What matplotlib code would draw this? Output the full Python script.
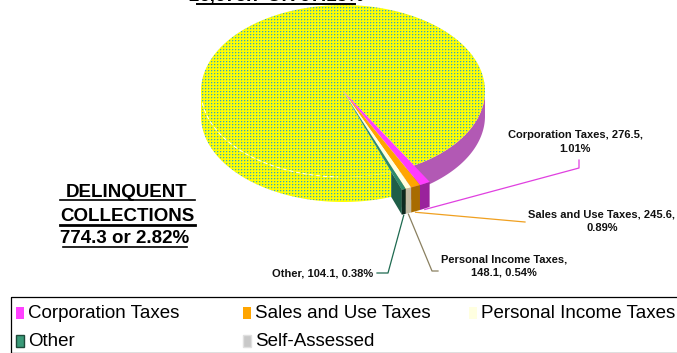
import numpy as np
import matplotlib
matplotlib.use("Agg")
import matplotlib.pyplot as plt
from matplotlib.patches import Polygon, Rectangle

plt.rcParams["font.family"] = ["Liberation Sans", "DejaVu Sans"]

# ---- data -------------------------------------------------------------
categories = ["Corporation Taxes", "Sales and Use Taxes",
              "Personal Income Taxes", "Other", "Self-Assessed"]
amounts = [276.5, 245.6, 148.1, 104.1, 26675.7]
percents = [1.01, 0.89, 0.54, 0.38, 97.18]
delinquent_amount = 774.3
delinquent_percent = 2.82

# ---- styling ----------------------------------------------------------
top_colors = ["#FF3CFF", "#FFA500", "#FFFFE0", "#2E8A6A"]
wall_colors = ["#9A229C", "#A86C00", "#C4BCA4", "#0E2A20"]
face_colors = ["#C02CC0", "#C88000", "#B0A890", "#1F5E48"]
leader_colors = ["#E040E0", "#F0A020", "#8A8060", "#1E6A50"]
legend_colors = ["#FF40FF", "#FFA500", "#FFFFE0", "#3A9A78", "#C8C8C8"]
legend_edges = ["none", "none", "none", "#1E4A3A", "#E0E0E0"]
right_wall_color = "#B259B4"

W, H = 677, 353
fig = plt.figure(figsize=(W / 100, H / 100), dpi=100)
ax = fig.add_axes([0, 0, 1, 1])

# pie geometry (pixel space, y downward)
cx, cy, rx, ry, depth = 343, 91, 142, 86, 25
start = -60.0
small_r = 1.22


def rim(phi_deg, r=1.0, dz=0.0):
    t = np.radians(phi_deg)
    return np.column_stack([cx + r * rx * np.cos(t),
                            cy - r * ry * np.sin(t) + dz])


spans = 360.0 * np.array(amounts) / sum(amounts)
bounds = start - np.concatenate([[0.0], np.cumsum(spans)])

# dotted yellow fill texture
YEL = np.array([1.0, 1.0, 0.0])
TEAL = np.array([0.25, 0.69, 0.63])
LIGHT = np.array([0.72, 0.88, 0.35])


def textured(poly_xy, zorder):
    patch = Polygon(poly_xy, closed=True, facecolor="none", edgecolor="none")
    ax.add_patch(patch)
    x0, y0 = np.floor(poly_xy.min(0)).astype(int) - 1
    x1, y1 = np.ceil(poly_xy.max(0)).astype(int) + 1
    h, w = y1 - y0, x1 - x0
    yy, xx = np.mgrid[0:h, 0:w]
    yy = (yy + y0) % 3
    xx = (xx + x0) % 3
    tex = np.empty((h, w, 3))
    tex[:] = YEL
    tex[(yy == 1) & (xx == 1)] = TEAL
    tex[(yy == 1) & (xx == 2)] = LIGHT
    tex[(yy == 2) & (xx == 1)] = LIGHT
    im = ax.imshow(tex, extent=(x0, x1, y1, y0), origin="upper",
                   interpolation="nearest", zorder=zorder, aspect="auto")
    im.set_clip_path(patch)


# ---- self-assessed slice: walls -----------------------------------------
sa0, sa1 = bounds[4], bounds[5]
ph = np.linspace(-180, sa0, 200)
left_wall = np.vstack([rim(ph), rim(ph[::-1], dz=depth)])
textured(left_wall, 1)

ph = np.linspace(sa1 + 360, 0, 120)
right_wall = np.vstack([rim(ph), rim(ph[::-1], dz=depth)])
ax.add_patch(Polygon(right_wall, closed=True, facecolor=right_wall_color,
                     edgecolor="none", zorder=1))

# ---- small (exploded) slices: side faces ---------------------------------
# only the part of each cut face that sticks out past the main cylinder
anchors = []
for i in range(4):
    a0, a1 = bounds[i], bounds[i + 1]
    ph = np.linspace(a0, a1, 20)
    outer = rim(ph, small_r)
    wall = np.vstack([outer, rim(ph[::-1], small_r, depth)])
    face = np.vstack([rim(a1, 1.0), rim(a1, small_r),
                      rim(a1, small_r, depth), rim(a1, 1.0, depth)])
    ax.add_patch(Polygon(face, closed=True, facecolor=face_colors[i],
                         edgecolor="none", zorder=2 + 0.01 * i))
    ax.add_patch(Polygon(wall, closed=True, facecolor=wall_colors[i],
                         edgecolor="none", zorder=2 + 0.01 * i + 0.005))
    anchors.append(rim((a0 + a1) / 2, small_r, depth + 1)[0])

# ---- self-assessed slice: top --------------------------------------------
ph = np.linspace(sa0, sa1, 600)
top_sa = np.vstack([[cx, cy], rim(ph)])
textured(top_sa, 3)
ax.plot(*rim(np.linspace(-172, -92, 80)).T, color="white", lw=0.7,
        dashes=(4, 3), zorder=3.2)

# ---- small slices: tops ---------------------------------------------------
for i in range(4):
    a0, a1 = bounds[i], bounds[i + 1]
    ph = np.linspace(a0, a1, 20)
    top = np.vstack([[cx, cy], rim(ph, small_r)])
    ax.add_patch(Polygon(top, closed=True, facecolor=top_colors[i],
                         edgecolor="none", zorder=4))

# ---- data labels with leader lines ---------------------------------------
lab_kw = dict(fontsize=8, fontweight="bold", color="#111111",
              linespacing=1.45, zorder=6)
label_texts = [
    f"{categories[0]}, {amounts[0]},\n{percents[0]:.2f}%",
    f"{categories[1]}, {amounts[1]},\n{percents[1]:.2f}%",
    f"{categories[2]},\n{amounts[2]}, {percents[2]:.2f}%",
    f"{categories[3]}, {amounts[3]}, {percents[3]:.2f}%",
]
label_pos = [(575, 142), (602, 221), (504, 266), (373, 274)]
label_ha = ["center", "center", "center", "right"]
elbows = [[(579, 168), (579, 160)],
          [(525, 222)],
          [(432, 271), (438, 271)],
          [(388, 273), (377, 273)]]
for i in range(4):
    pts = np.vstack([anchors[i], np.array(elbows[i])])
    ax.plot(pts[:, 0], pts[:, 1], color=leader_colors[i], lw=0.9, zorder=1.5)
    ax.text(*label_pos[i], label_texts[i], ha=label_ha[i], va="center",
            **lab_kw)

# ---- headline labels ------------------------------------------------------
big_kw = dict(fontsize=13.5, fontweight="bold", color="black",
              ha="center", va="baseline")
ax.text(276, 1, f"{amounts[4]:,.1f} OR {percents[4]}%", **big_kw)
ax.plot([197, 355], [4, 4], color="black", lw=1.4)

ax.text(127, 197, "DELINQUENT", **big_kw)
ax.text(127, 221, "COLLECTIONS", **big_kw)
ax.text(125, 243, f"{delinquent_amount} or {delinquent_percent}%", **big_kw)
ax.plot([60, 195], [200, 200], color="black", lw=1.2)
ax.plot([60, 195], [224.5, 224.5], color="black", lw=2.0)
ax.plot([63, 187], [247, 247], color="black", lw=1.2)

# ---- legend ----------------------------------------------------------------
ax.add_patch(Rectangle((10.5, 296.5), 700, 56, fill=False, edgecolor="black",
                       lw=0.9, zorder=6))
col_x = [16, 243, 469]
row_y = [313, 341]
for i, name in enumerate(categories):
    r, c = divmod(i, 3)
    sx, sy = col_x[c], row_y[r]
    ax.add_patch(Rectangle((sx, sy - 6), 8, 12, facecolor=legend_colors[i],
                           edgecolor=legend_edges[i], lw=1.0, zorder=6))
    ax.text(sx + 12, sy, name, fontsize=13.5, ha="left", va="center",
            color="black", zorder=6)

ax.set_xlim(0, W)
ax.set_ylim(H, 0)
ax.axis("off")
fig.savefig("out.png", dpi=100)
